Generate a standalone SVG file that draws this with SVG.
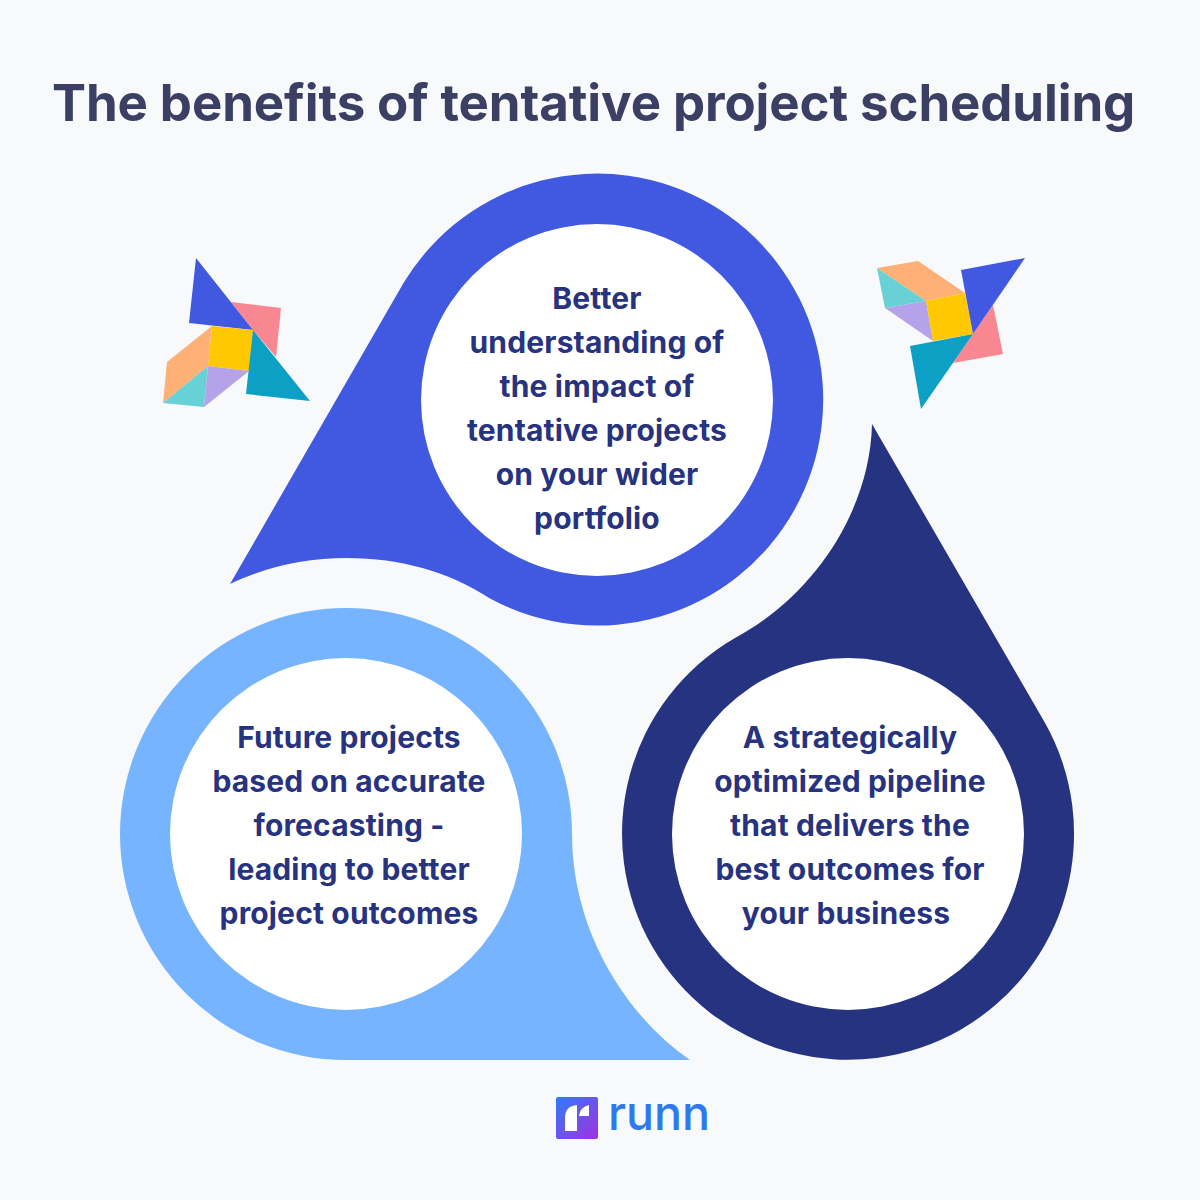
<svg xmlns="http://www.w3.org/2000/svg" width="1200" height="1200" viewBox="0 0 1200 1200">
<style>
.t{font-family:"Inter","Noto Sans","Liberation Sans",sans-serif;font-weight:700;font-size:30px;letter-spacing:.15px;fill:#27337f;text-anchor:middle}
.h{font-family:"Inter","Noto Sans","Liberation Sans",sans-serif;font-weight:700;font-size:51px;letter-spacing:-.1px;fill:#3a3f63}
.w{fill:#fff}
</style>
<defs><linearGradient id="lg" x1="0" y1="0" x2="1" y2="1"><stop offset="0" stop-color="#2f7cf6"/><stop offset="1" stop-color="#a32fe0"/></linearGradient></defs>
<rect width="1200" height="1200" fill="#f8f9fb"/>
<text id="title" class="h" x="52" y="121">The benefits of tentative project scheduling</text>
<g id="drop-top">
<path fill="#4159e0" d="M230 584L403.8 282.6A226 226 0 1 1 490 598.5C450 572 400 558 347 558C305 558 265 567 230 584Z"/>
<circle class="w" cx="597" cy="400" r="176"/>
<text class="t" x="597" y="309">Better</text>
<text class="t" x="597" y="353">understanding of</text>
<text class="t" x="597" y="397">the impact of</text>
<text class="t" x="597" y="441">tentative projects</text>
<text class="t" x="597" y="485">on your wider</text>
<text class="t" x="597" y="529">portfolio</text>
</g>
<g id="drop-left">
<path fill="#76b4ff" d="M690 1060L346 1060A226 226 0 1 1 572 834C572 930 625 1015 690 1060Z"/>
<circle class="w" cx="346" cy="834" r="176"/>
<text class="t" x="349" y="748">Future projects</text>
<text class="t" x="349" y="792">based on accurate</text>
<text class="t" x="349" y="836">forecasting -</text>
<text class="t" x="349" y="880">leading to better</text>
<text class="t" x="349" y="924">project outcomes</text>
</g>
<g id="drop-right">
<path fill="#263381" d="M872 424L1044.5 722A226 226 0 1 1 735 638C815 595 870 510 872 424Z"/>
<circle class="w" cx="848" cy="834" r="176"/>
<text class="t" x="850" y="748">A strategically</text>
<text class="t" x="850" y="792">optimized pipeline</text>
<text class="t" x="850" y="836">that delivers the</text>
<text class="t" x="850" y="880">best outcomes for</text>
<text class="t" x="846" y="924">your business</text>
</g>
<g id="pinwheel-left">
<polygon fill="#f98791" points="231,302 281,308 276,357 253,330"/>
<polygon fill="#4159e0" points="196,258 189,323 253,330"/>
<polygon fill="#ffc800" points="212,326 253,330 249,371 208,366"/>
<polygon fill="#0ba0c4" points="253,330 246,394 310,401"/>
<polygon fill="#ffb077" points="212,326 167,362 163,403 208,366"/>
<polygon fill="#68d1d5" points="208,366 163,403 204,407"/>
<polygon fill="#b5a2e8" points="208,366 204,407 249,371"/>
</g>
<g id="pinwheel-right">
<polygon fill="#ffb077" points="877,268 918,261 965,293 926,301"/>
<polygon fill="#68d1d5" points="877,268 926,301 885,308"/>
<polygon fill="#b5a2e8" points="885,308 926,301 933,341"/>
<polygon fill="#ffc800" points="926,301 965,293 973,334 933,341"/>
<polygon fill="#f98791" points="993,305 1003,354 953,363 973,334"/>
<polygon fill="#4159e0" points="961,270 1025,258 973,334"/>
<polygon fill="#0ba0c4" points="973,334 910,346 921,409"/>
</g>
<g id="logo">
<rect x="556" y="1097" width="42" height="42" rx="2" fill="url(#lg)"/>
<path class="w" d="M565 1131V1118Q565 1106 577 1105V1131Z"/>
<path class="w" d="M589 1105V1116H579Q580 1107 589 1105Z"/>
<text x="608" y="1130" font-family="Inter,'Noto Sans',sans-serif" font-weight="500" font-size="47" fill="#2e78f0" textLength="102" lengthAdjust="spacingAndGlyphs">runn</text>
</g>
</svg>
